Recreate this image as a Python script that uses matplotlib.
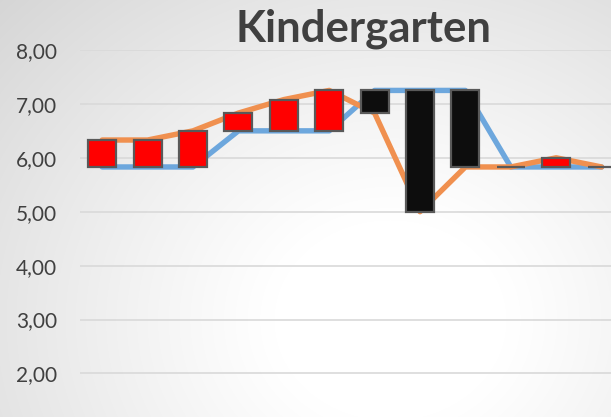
import numpy as np
import matplotlib.pyplot as plt

# Excel stock-style chart: two lines with up/down bars between them
categories = list(range(1, 13))
blue_vals = [5.83, 5.83, 5.83, 6.50, 6.50, 6.50, 7.25, 7.25, 7.25, 5.83, 5.83, 5.83]
orange_vals = [6.33, 6.33, 6.50, 6.83, 7.08, 7.25, 6.83, 5.00, 5.83, 5.83, 6.00, 5.83]
y_ticks = [2, 3, 4, 5, 6, 7, 8]
title = "Kindergarten"

W, H, DPI = 611, 417, 100
fig = plt.figure(figsize=(W / DPI, H / DPI), dpi=DPI)

# radial gray-to-white background like the Excel chart area fill
bg = fig.add_axes([0, 0, 1, 1], zorder=-10)
yy, xx = np.mgrid[0:H, 0:W]
r = np.hypot((xx - 390) * 0.95, (yy - 320) * 1.1)
t = np.clip((r - 110) / 420, 0, 1)
shade = 1 - 0.17 * t ** 1.1
bg.imshow(np.dstack([shade, shade, shade]), extent=[0, W, H, 0], aspect='auto')
bg.axis('off')

# plot area: left edge at px 79.5, category width 45.4 px, 8,00 at px 50, 1 unit = 53.9 px
left = 79.5 / W
width = 12 * 45.4 / W
top = 1 - 50 / H
height = 7 * 53.9 / H
ax = fig.add_axes([left, top - height, width, height])
ax.patch.set_alpha(0)

x = np.arange(len(categories))
ax.plot(x, blue_vals, color='#6DA7DD', lw=3.9, solid_capstyle='round', solid_joinstyle='round', zorder=2)
ax.plot(x, orange_vals, color='#F0904F', lw=3.9, solid_capstyle='round', solid_joinstyle='round', zorder=2)

low = np.minimum(blue_vals, orange_vals)
diff = np.array(orange_vals) - np.array(blue_vals)
colors = ['#FF0000' if d > 0 else '#0D0D0D' for d in diff]
ax.bar(x, np.abs(diff), bottom=low, width=0.62, color=colors, edgecolor='#595959', linewidth=1.6, zorder=3)

ax.set_xlim(-0.5, len(categories) - 0.5)
ax.set_ylim(1, 8)
ax.set_yticks(y_ticks)
ax.set_yticklabels([f"{v:.2f}".replace('.', ',') for v in y_ticks])
ax.tick_params(axis='y', length=0, pad=16, labelsize=15, labelcolor='#404040')
for lab in ax.get_yticklabels():
    lab.set_fontfamily('Lato')
ax.set_xticks([])
ax.grid(axis='y', color='#D9D9D9', lw=1.2, zorder=0)
ax.set_axisbelow(True)
for s in ax.spines.values():
    s.set_visible(False)

fig.text(363.5 / W, 1 - 41.5 / H, title, ha='center', va='baseline', fontsize=31.5,
         fontweight='bold', color='#404040', family='Lato')

fig.savefig("out.png", dpi=DPI)
